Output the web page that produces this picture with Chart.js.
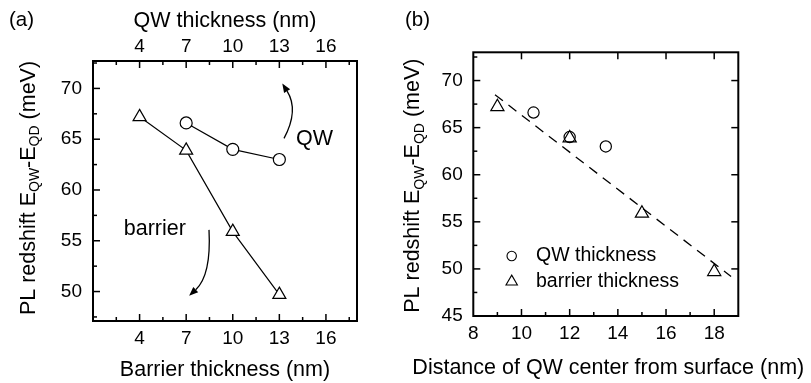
<!DOCTYPE html>
<html>
<head>
<meta charset="utf-8">
<script src="https://cdn.jsdelivr.net/npm/chart.js@4.4.1/dist/chart.umd.min.js"></script>
<style>
  html, body { margin: 0; padding: 0; background: #fff; overflow: hidden; }
  #wrap { position: relative; width: 811px; height: 383px; }
  canvas { position: absolute; top: 0; }
  #ca { left: 0; }
  #cb { left: 400px; }
</style>
</head>
<body>
<div id="wrap">
  <canvas id="ca" width="400" height="383"></canvas>
  <canvas id="cb" width="411" height="383"></canvas>
</div>
<script>
// Panel (a): PL redshift against layer thickness
const barrierThickness = [4, 7, 10, 13];
const barrierRedshift = [67.2, 63.9, 55.9, 49.7];
const qwThickness = [7, 10, 13];
const qwRedshift = [66.6, 64.0, 63.0];

// Panel (b): the same samples against depth of the QW centre
const qwDistance = [10.5, 12, 13.5];
const barrierDistance = [9, 12, 15, 18];
const fitDistance = [8.9, 18.7];
const fitRedshift = [68.5, 49.2];

// Tick labels
const thicknessTicks = [4, 7, 10, 13, 16];
const redshiftTicksA = [50, 55, 60, 65, 70];
const distanceTicks = [8, 10, 12, 14, 16, 18];
const redshiftTicksB = [45, 50, 55, 60, 65, 70];

// Text
const yTitleParts = [['PL redshift E', false], ['QW', true], ['-E', false], ['QD', true], [' (meV)', false]];
const legendLabels = ['QW thickness', 'barrier thickness'];
const distanceTitle = 'Distance of QW center from surface (nm)';

const FONT = "'Liberation Sans', Arial, Helvetica, sans-serif";
Chart.defaults.font.family = FONT;
Chart.defaults.color = '#000';

const pts = (xs, ys) => xs.map((x, i) => ({ x, y: ys[i] }));
const fixedTicks = vals => scale => { scale.ticks = vals.map(v => ({ value: v })); };

// Major / minor tick positions between the axis limits (minor halfway between majors)
function tickMarks(major, lo, hi) {
  const step = (major[1] - major[0]) / 2;
  const out = [];
  const k0 = Math.ceil((lo - major[0]) / step - 1e-9);
  const k1 = Math.floor((hi - major[0]) / step + 1e-9);
  for (let k = k0; k <= k1; k++) {
    const v = major[0] + k * step;
    if (v <= lo + 1e-9 || v >= hi - 1e-9) continue;
    out.push({ v, major: k % 2 === 0 });
  }
  return out;
}

// Box frame with inward tick marks
const frame = {
  id: 'frame',
  afterDatasetsDraw(chart, args, opts) {
    const { ctx, chartArea: a } = chart;
    ctx.save();
    ctx.strokeStyle = '#000';
    ctx.lineWidth = 1.5;
    for (const side of opts.sides) {
      const s = chart.scales[side.scale];
      const marks = tickMarks(side.major, s.min, s.max);
      for (const m of marks) {
        if (!m.major && !side.minor) continue;
        const len = m.major ? 7 : 4;
        const p = s.getPixelForValue(m.v);
        ctx.beginPath();
        if (side.edge === 'bottom') { ctx.moveTo(p, a.bottom); ctx.lineTo(p, a.bottom - len); }
        if (side.edge === 'top') { ctx.moveTo(p, a.top); ctx.lineTo(p, a.top + len); }
        if (side.edge === 'left') { ctx.moveTo(a.left, p); ctx.lineTo(a.left + len, p); }
        if (side.edge === 'right') { ctx.moveTo(a.right, p); ctx.lineTo(a.right - len, p); }
        ctx.stroke();
      }
    }
    ctx.lineWidth = 2;
    ctx.strokeRect(a.left, a.top, a.right - a.left, a.bottom - a.top);
    ctx.restore();
  }
};

// Rotated y title with subscripts, the panel letter and an optional wide x title
const titles = {
  id: 'titles',
  afterDraw(chart, args, opts) {
    const { ctx, chartArea: a } = chart;
    const size = 21.5, sub = 14;
    ctx.save();
    ctx.fillStyle = '#000';
    ctx.textBaseline = 'alphabetic';
    let total = 0;
    for (const [t, s] of yTitleParts) {
      ctx.font = `${s ? sub : size}px ${FONT}`;
      total += ctx.measureText(t).width;
    }
    ctx.translate(opts.x + size * 0.35, (a.top + a.bottom) / 2 + opts.dy);
    ctx.rotate(-Math.PI / 2);
    let x = -total / 2;
    for (const [t, s] of yTitleParts) {
      ctx.font = `${s ? sub : size}px ${FONT}`;
      ctx.fillText(t, x, s ? size * 0.2 : 0);
      x += ctx.measureText(t).width;
    }
    ctx.restore();

    ctx.save();
    ctx.fillStyle = '#000';
    ctx.textBaseline = 'middle';
    ctx.font = `20.5px ${FONT}`;
    ctx.fillText(opts.letter, opts.letterX, 20);
    if (opts.xTitle) {
      ctx.font = `${size}px ${FONT}`;
      ctx.textAlign = 'center';
      ctx.fillText(opts.xTitle, (a.left + a.right) / 2 + opts.xTitleDx, opts.xTitleY);
    }
    ctx.restore();
  }
};

// Curved arrows and text notes placed in data coordinates
const notes = {
  id: 'notes',
  afterDraw(chart, args, opts) {
    const { ctx } = chart;
    ctx.save();
    ctx.fillStyle = '#000';
    ctx.strokeStyle = '#000';
    for (const n of opts.texts) {
      const sx = chart.scales[n.xAxis], sy = chart.scales.y;
      ctx.font = `21.5px ${FONT}`;
      ctx.textBaseline = 'middle';
      ctx.fillText(n.text, sx.getPixelForValue(n.x), sy.getPixelForValue(n.y));
    }
    for (const ar of opts.arrows) {
      const sx = chart.scales.x, sy = chart.scales.y;
      const P = ar.x.map((v, i) => [sx.getPixelForValue(v), sy.getPixelForValue(ar.y[i])]);
      const [p0, c, p2] = P;
      const ang = Math.atan2(p2[1] - c[1], p2[0] - c[0]);
      const L = 9, W = 3.6;
      const bx = p2[0] - L * Math.cos(ang), by = p2[1] - L * Math.sin(ang);
      ctx.lineWidth = 1.3;
      ctx.beginPath();
      ctx.moveTo(p0[0], p0[1]);
      ctx.quadraticCurveTo(c[0], c[1], bx, by);
      ctx.stroke();
      ctx.beginPath();
      ctx.moveTo(p2[0], p2[1]);
      ctx.lineTo(bx - W * Math.sin(ang), by + W * Math.cos(ang));
      ctx.lineTo(bx + W * Math.sin(ang), by - W * Math.cos(ang));
      ctx.closePath();
      ctx.fill();
    }
    ctx.restore();
  }
};

// Legend drawn inside the plot box
const innerLegend = {
  id: 'innerLegend',
  afterDraw(chart, args, opts) {
    const { ctx, chartArea: a } = chart;
    ctx.save();
    opts.items.forEach((it, i) => {
      const ds = chart.data.datasets[it.dataset];
      const y = a.top + opts.top + i * opts.gap;
      ctx.strokeStyle = '#000';
      ctx.fillStyle = 'rgba(0,0,0,0)';
      ctx.lineWidth = 1.1;
      Chart.helpers.drawPoint(ctx, { pointStyle: ds.pointStyle, radius: it.r, borderWidth: 1.1 }, a.left + opts.markX, y);
      ctx.fillStyle = '#000';
      ctx.font = `19.5px ${FONT}`;
      ctx.textBaseline = 'middle';
      ctx.fillText(legendLabels[i], a.left + opts.textX, y);
    });
    ctx.restore();
  }
};

const tickFont = { size: 19 };
const titleFont = { size: 21.5 };
const hidden = { grid: { display: false, drawTicks: false }, border: { display: false } };

// ---------- Panel (a) ----------
new Chart(document.getElementById('ca'), {
  type: 'scatter',
  data: {
    datasets: [
      {
        label: 'barrier', data: pts(barrierThickness, barrierRedshift), xAxisID: 'x', yAxisID: 'y',
        showLine: true, borderColor: '#000', borderWidth: 1.2,
        pointStyle: 'triangle', pointRadius: 7.5, pointBorderWidth: 1.2,
        pointBorderColor: '#000', pointBackgroundColor: '#fff'
      },
      {
        label: 'QW', data: pts(qwThickness, qwRedshift), xAxisID: 'x2', yAxisID: 'y',
        showLine: true, borderColor: '#000', borderWidth: 1.2,
        pointStyle: 'circle', pointRadius: 6, pointBorderWidth: 1.2,
        pointBorderColor: '#000', pointBackgroundColor: '#fff'
      }
    ]
  },
  options: {
    responsive: false, animation: false, devicePixelRatio: 1,
    layout: { padding: { left: 0, right: 43, top: 0, bottom: 0 } },
    plugins: {
      legend: { display: false }, tooltip: { enabled: false },
      frame: { sides: [
        { scale: 'x', edge: 'bottom', major: thicknessTicks, minor: true },
        { scale: 'x2', edge: 'top', major: thicknessTicks, minor: true },
        { scale: 'y', edge: 'left', major: redshiftTicksA, minor: true }
      ] },
      titles: { x: 27, dy: -3, letter: '(a)', letterX: 9 },
      notes: {
        texts: [
          { text: 'QW', xAxis: 'x', x: 14.08, y: 65.0 },
          { text: 'barrier', xAxis: 'x', x: 2.98, y: 56.2 }
        ],
        arrows: [
          { x: [13.30, 14.27, 13.19], y: [65.08, 67.87, 70.49] },
          { x: [8.47, 8.62, 7.19], y: [56.07, 51.6, 49.58] }
        ]
      }
    },
    scales: {
      x: {
        type: 'linear', position: 'bottom', min: 1, max: 18, ...hidden,
        afterBuildTicks: fixedTicks(thicknessTicks), afterFit: s => { s.height = 62; },
        ticks: { padding: 6.5, font: tickFont },
        title: { display: true, text: 'Barrier thickness (nm)', font: titleFont, padding: { top: 0, bottom: 0 } }
      },
      x2: {
        type: 'linear', position: 'top', min: 1, max: 18, ...hidden,
        afterBuildTicks: fixedTicks(thicknessTicks), afterFit: s => { s.height = 61; },
        ticks: { padding: 2.5, font: tickFont },
        title: { display: true, text: 'QW thickness (nm)', font: titleFont, padding: { top: 8, bottom: 0 } }
      },
      y: {
        type: 'linear', position: 'left', min: 47.1, max: 72.7, ...hidden,
        afterBuildTicks: fixedTicks(redshiftTicksA), afterFit: s => { s.width = 93; },
        ticks: { padding: 11, font: tickFont }
      }
    }
  },
  plugins: [frame, titles, notes]
});

// ---------- Panel (b) ----------
new Chart(document.getElementById('cb'), {
  type: 'scatter',
  data: {
    datasets: [
      {
        label: 'QW thickness', data: pts(qwDistance, qwRedshift),
        pointStyle: 'circle', pointRadius: 5.6, pointBorderWidth: 1.2,
        pointBorderColor: '#000', pointBackgroundColor: 'rgba(0,0,0,0)'
      },
      {
        label: 'barrier thickness', data: pts(barrierDistance, barrierRedshift),
        pointStyle: 'triangle', pointRadius: 7.6, pointBorderWidth: 1.2,
        pointBorderColor: '#000', pointBackgroundColor: 'rgba(0,0,0,0)'
      },
      {
        label: 'fit', data: pts(fitDistance, fitRedshift), showLine: true,
        borderColor: '#000', borderWidth: 1.3, borderDash: [10, 7], pointRadius: 0
      }
    ]
  },
  options: {
    responsive: false, animation: false, devicePixelRatio: 1,
    layout: { padding: { left: 0, right: 72.7, top: 52.3, bottom: 0 } },
    plugins: {
      legend: { display: false }, tooltip: { enabled: false },
      frame: { sides: [
        { scale: 'x', edge: 'bottom', major: distanceTicks, minor: true },
        { scale: 'x', edge: 'top', major: distanceTicks, minor: false },
        { scale: 'y', edge: 'left', major: redshiftTicksB, minor: true },
        { scale: 'y', edge: 'right', major: redshiftTicksB, minor: false }
      ] },
      // the x title is wider than the plot box, so it is drawn here without a width limit
      titles: { x: 11.7, dy: 1.5, letter: '(b)', letterX: 5, xTitle: distanceTitle, xTitleDx: 2.5, xTitleY: 368 },
      innerLegend: {
        markX: 38.4, textX: 62.7, top: 203.7, gap: 25.7,
        items: [{ dataset: 0, r: 4.7 }, { dataset: 1, r: 6.6 }]
      }
    },
    scales: {
      x: {
        type: 'linear', position: 'bottom', min: 8, max: 19, ...hidden,
        afterBuildTicks: fixedTicks(distanceTicks), afterFit: s => { s.height = 67; },
        ticks: { padding: 6.5, font: tickFont }
      },
      y: {
        type: 'linear', position: 'left', min: 45, max: 73, ...hidden,
        afterBuildTicks: fixedTicks(redshiftTicksB), afterFit: s => { s.width = 73.3; },
        ticks: { padding: 10.6, font: tickFont }
      }
    }
  },
  plugins: [frame, titles, innerLegend]
});
</script>
</body>
</html>
